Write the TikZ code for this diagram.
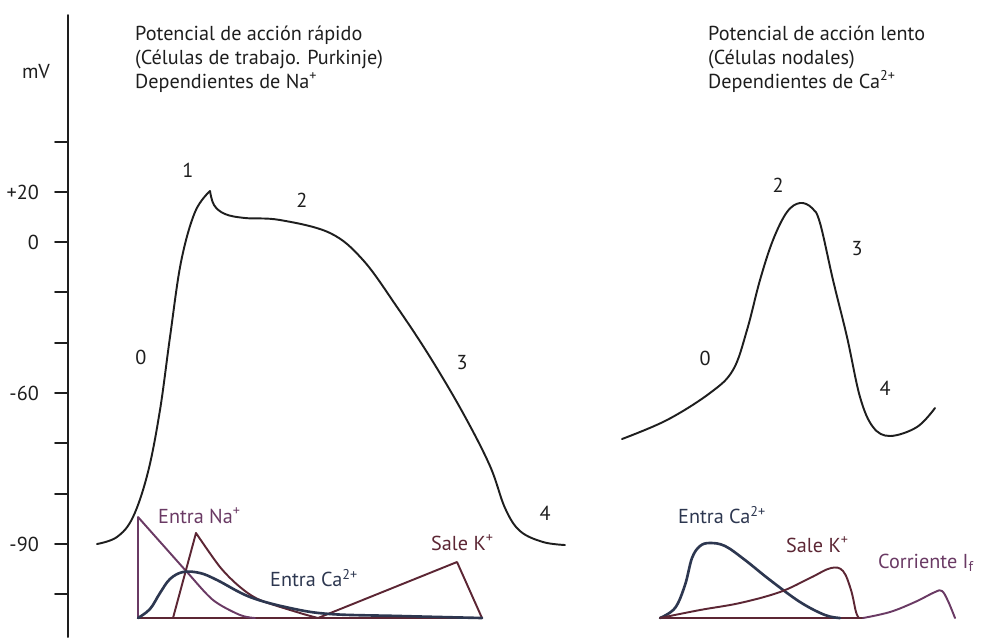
\documentclass[tikz,border=0pt]{standalone}
\usepackage{fontspec}
\setmainfont{PT Sans}
\usepackage{tikz}
\usetikzlibrary{calc, positioning}
\definecolor{naCol}{RGB}{106, 58, 100}
\definecolor{caCol}{RGB}{45, 55, 80}
\definecolor{kCol}{RGB}{92, 38, 52}
\definecolor{inkCol}{RGB}{30, 30, 30}

\tikzset{
  apline/.style={line width=1.1pt, inkCol},
  axisline/.style={line width=1.1pt, inkCol},
  curr/.style={line width=1.1pt},
  lbl/.style={font=\fontsize{11.5}{13.6}\selectfont, inkCol},
  phase/.style={font=\fontsize{11.5}{13.6}\selectfont, inkCol}
}

\begin{document}
\begin{tikzpicture}[x=0.02cm, y=-0.02cm, line join=round, line cap=round]
  \useasboundingbox (0,0) rectangle (983,637);

  % voltage axis
  \draw[axisline] (68,15) -- (68,637);
  \foreach \ty in {142,192,242,292,343,393,443,494,544,594}
    \draw[axisline] (55,\ty) -- (68,\ty);
  \node[lbl] (mv) at (36,72) {mV};
  \node[lbl, anchor=east] (p20) at (45,192) {+20};
  \node[lbl, anchor=east] (z0) at (45,242) {0};
  \node[lbl, anchor=east] (m60) at (45,393) {-60};
  \node[lbl, anchor=east] (m90) at (45,544) {-90};

  % titles
  \node[lbl, anchor=west, align=left] (fastT) at (129,59)
    {Potencial de acción rápido\\(Células de trabajo. Purkinje)\\Dependientes de Na\textsuperscript{+}};
  \node[lbl, anchor=west, align=left] (slowT) at (702,59)
    {Potencial de acción lento\\(Células nodales)\\Dependientes de Ca\textsuperscript{2+}};

  % fast action potential
  \draw[apline] plot[smooth, tension=0.6] coordinates
    {(97,544) (117,537) (133,517) (148,472) (160,410) (170,337) (181,262) (195,212) (210,191)};
  \draw[apline] plot[smooth, tension=0.6] coordinates
    {(210,191) (214,205) (225,214) (245,218) (280,220) (330,233) (363,260) (397,307) (430,357)
     (463,413) (490,466) (505,508) (520,531) (543,542) (565,545)};
  \node[phase] (f0) at (141,357) {0};
  \node[phase] (f1) at (188,170) {1};
  \node[phase] (f2) at (302,200) {2};
  \node[phase] (f3) at (462,363) {3};
  \node[phase] (f4) at (545,513) {4};

  % slow action potential
  \draw[apline] plot[smooth, tension=0.6] coordinates
    {(622,439) (667,420) (710,393) (733,370) (747,330) (760,280) (773,240) (787,212) (800,203)
     (812,208) (820,223) (833,280) (847,337) (860,397) (873,427) (890,436) (917,427) (935,408)};
  \node[phase] (s0) at (705,358) {0};
  \node[phase] (s2) at (778,185) {2};
  \node[phase] (s3) at (857,249) {3};
  \node[phase] (s4) at (885,388) {4};

  % ionic currents, fast cell
  \draw[curr, kCol] (138,618) -- (482,618);
  \draw[curr, naCol] (138,618) -- (138,517) plot[smooth, tension=0.5] coordinates
    {(138,517) (162,544) (187,572) (213,600) (240,615) (255,618)};
  \draw[curr, kCol] (173,618) -- (196,533) plot[smooth, tension=0.5] coordinates
    {(196,533) (220,567) (240,587) (260,600) (300,613) (318,618)};
  \draw[curr, kCol] (318,618) -- (457,562) -- (482,618);
  \draw[caCol, line width=1.5pt] plot[smooth, tension=0.6] coordinates
    {(138,618) (150,609) (160,593) (170,579) (183,572) (200,573) (217,580) (250,597) (290,608)
     (330,614) (400,616) (482,618)};
  \node[lbl, text=naCol, anchor=west] (naIn) at (152,516) {Entra Na\textsuperscript{+}};
  \node[lbl, text=caCol, anchor=west] (caIn) at (264,578) {Entra Ca\textsuperscript{2+}};
  \node[lbl, text=kCol, anchor=west] (kOut) at (425,543) {Sale K\textsuperscript{+}};

  % ionic currents, nodal cell
  \draw[curr, kCol] (660,618) -- (863,618);
  \draw[caCol, line width=1.5pt] plot[smooth, tension=0.6] coordinates
    {(660,618) (675,608) (685,585) (692,558) (700,546) (710,543) (725,546) (745,560) (770,580)
     (800,602) (825,615) (840,618)};
  \draw[curr, kCol] plot[smooth, tension=0.6] coordinates
    {(660,618) (700,610) (740,603) (780,592) (810,578) (831,568) (843,571) (851,590) (856,612) (859,618)};
  \draw[curr, naCol] plot[smooth, tension=0.6] coordinates
    {(863,618) (890,612) (915,602) (935,592) (942,591) (948,601) (955,618)};
  \node[lbl, text=caCol, anchor=west] (caIn2) at (672,515) {Entra Ca\textsuperscript{2+}};
  \node[lbl, text=kCol, anchor=west] (kOut2) at (780,545) {Sale K\textsuperscript{+}};
  \node[lbl, text=naCol, anchor=west] (ifCur) at (872,563) {Corriente I\textsubscript{f}};
\end{tikzpicture}
\end{document}
